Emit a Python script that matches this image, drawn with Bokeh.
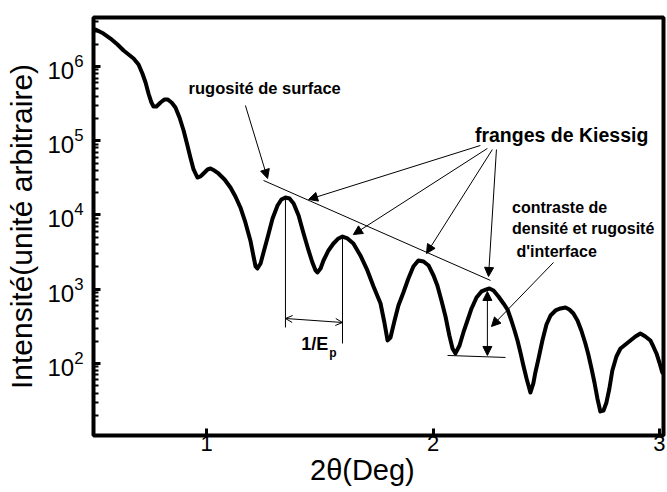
import numpy as np
from bokeh.plotting import figure
from bokeh.models import Arrow, NormalHead, OpenHead, Label, Range1d, FixedTicker
from bokeh.embed import file_html
from bokeh.resources import INLINE

# ---- data ----
two_theta = [0.509,0.544,0.575,0.606,0.633,0.655,0.677,0.699,0.716,0.730,0.743,0.756,0.765,0.778,0.796,0.814,0.827,0.845,0.862,0.880,
             0.898,0.915,0.928,0.942,0.959,0.973,0.986,1.004,1.017,1.034,1.052,1.079,1.105,1.127,1.149,1.171,1.193,1.207,1.216,1.224,
             1.238,1.251,1.269,1.291,1.313,1.330,1.348,1.366,1.384,1.406,1.428,1.450,1.467,1.481,1.489,1.503,1.516,1.538,1.560,1.582,
             1.600,1.622,1.648,1.679,1.710,1.737,1.768,1.785,1.799,1.812,1.830,1.847,1.869,1.891,1.913,1.935,1.958,1.980,2.002,2.019,
             2.037,2.055,2.072,2.086,2.099,2.117,2.134,2.152,2.170,2.192,2.214,2.236,2.249,2.267,2.289,2.311,2.329,2.346,2.360,2.373,
             2.386,2.399,2.413,2.430,2.443,2.452,2.466,2.483,2.501,2.519,2.541,2.563,2.585,2.602,2.620,2.638,2.655,2.673,2.686,2.700,
             2.713,2.726,2.739,2.753,2.766,2.779,2.792,2.810,2.828,2.850,2.872,2.894,2.916,2.938,2.960,2.973,2.987,3.000,3.013]
log_intensity = [6.498,6.444,6.377,6.296,6.215,6.162,6.108,6.027,5.906,5.785,5.636,5.515,5.461,5.461,5.515,5.556,5.556,5.515,5.448,5.313,
                 5.138,4.936,4.774,4.613,4.505,4.519,4.559,4.613,4.626,4.599,4.559,4.478,4.370,4.249,4.101,3.899,3.657,3.441,3.306,3.279,
                 3.347,3.495,3.697,3.953,4.128,4.209,4.236,4.222,4.155,3.993,3.751,3.522,3.360,3.253,3.226,3.279,3.387,3.522,3.616,3.684,
                 3.710,3.684,3.616,3.455,3.253,3.037,2.808,2.552,2.310,2.350,2.579,2.781,2.956,3.145,3.306,3.387,3.374,3.320,3.185,3.051,
                 2.848,2.633,2.377,2.202,2.135,2.242,2.418,2.579,2.741,2.889,2.970,2.997,3.010,2.983,2.902,2.808,2.727,2.579,2.444,2.310,
                 2.148,1.973,1.798,1.609,1.731,1.879,2.067,2.310,2.525,2.646,2.714,2.741,2.754,2.727,2.673,2.579,2.444,2.269,2.121,1.933,
                 1.744,1.529,1.354,1.367,1.475,1.663,1.906,2.094,2.202,2.256,2.310,2.364,2.404,2.364,2.310,2.229,2.135,2.013,1.875]
intensity = [10 ** v for v in log_intensity]

x_ticks = [1, 2, 3]
x_label = "2\u03b8(Deg)"
y_label = "Intensit\u00e9(unit\u00e9 arbitraire)"

# annotation anchors (data units: 2theta, log10 intensity)
kiessig_start_x = [2.209, 2.240, 2.262, 2.280]
kiessig_start_log = [4.936, 4.896, 4.882, 4.882]
kiessig_end_x = [1.450, 1.648, 1.971, 2.245]
kiessig_end_log = [4.209, 3.737, 3.481, 3.172]
surface_arrow = [1.171, 5.475, 1.269, 4.492]
contrast_arrow = [2.532, 3.360, 2.258, 2.498]
surface_line = [1.251, 4.465, 2.254, 3.118]
contrast_span = [2.240, 2.970, 2.108]
contrast_base = [2.064, 2.108, 2.320, 2.081]
ep_lines_x = [1.348, 1.600]
ep_lines_top = [4.236, 3.710]
ep_lines_bottom = [2.485, 2.269]
ep_arrow = [1.348, 2.606, 1.600, 2.552]

FONT = "Liberation Sans"

p = figure(width=667, height=492, y_axis_type="log",
           x_range=Range1d(0.5, 3.018), y_range=Range1d(10 ** 1.03, 10 ** 6.66),
           output_backend="svg", toolbar_location=None,
           min_border_left=93, min_border_right=4, min_border_top=17, min_border_bottom=57)
p.grid.visible = False
p.outline_line_color = "black"
p.outline_line_width = 4
p.background_fill_color = "white"
p.border_fill_color = "white"

for ax in (p.xaxis[0], p.yaxis[0]):
    ax.axis_line_color = None
    ax.major_tick_in = 7
    ax.major_tick_out = 0
    ax.major_tick_line_width = 3
    ax.major_label_text_font = FONT
    ax.major_label_text_color = "black"
    ax.axis_label_text_font = FONT
    ax.axis_label_text_font_style = "normal"
    ax.axis_label_text_color = "black"

p.xaxis.ticker = FixedTicker(ticks=x_ticks)
p.xaxis.minor_tick_line_color = None
p.xaxis.major_label_standoff = 0
p.xaxis.major_label_text_font_size = "22px"
p.xaxis.axis_label = x_label + "\u00a0\u00a0\u00a0\u00a0"
p.xaxis.axis_label_text_font_size = "29px"
p.xaxis.axis_label_standoff = 0

p.yaxis.minor_tick_in = 5
p.yaxis.minor_tick_out = 0
p.yaxis.minor_tick_line_width = 2
p.yaxis.major_label_standoff = 10
p.yaxis.major_label_text_font_size = "24px"
p.yaxis.axis_label = y_label
p.yaxis.axis_label_text_font_size = "30px"
p.yaxis.axis_label_standoff = 6

p.line(two_theta, intensity, line_color="black", line_width=4, line_join="round", line_cap="round")

# straight annotation lines
p.segment(x0=[surface_line[0], contrast_base[0]] + ep_lines_x,
          y0=[10 ** surface_line[1], 10 ** contrast_base[1]] + [10 ** v for v in ep_lines_top],
          x1=[surface_line[2], contrast_base[2]] + ep_lines_x,
          y1=[10 ** surface_line[3], 10 ** contrast_base[3]] + [10 ** v for v in ep_lines_bottom],
          line_color="black", line_width=1)

def head():
    return NormalHead(size=9, fill_color="black", line_color="black", line_width=1)

for xs, ys, xe, ye in zip(kiessig_start_x, kiessig_start_log, kiessig_end_x, kiessig_end_log):
    p.add_layout(Arrow(end=head(), x_start=xs, y_start=10 ** ys, x_end=xe, y_end=10 ** ye, line_width=1))
for a in (surface_arrow, contrast_arrow):
    p.add_layout(Arrow(end=head(), x_start=a[0], y_start=10 ** a[1], x_end=a[2], y_end=10 ** a[3], line_width=1))
p.add_layout(Arrow(start=head(), end=head(), x_start=contrast_span[0], y_start=10 ** contrast_span[1],
                   x_end=contrast_span[0], y_end=10 ** contrast_span[2], line_width=1))
p.add_layout(Arrow(start=OpenHead(size=7, line_width=1), end=OpenHead(size=7, line_width=1),
                   x_start=ep_arrow[0], y_start=10 ** ep_arrow[1], x_end=ep_arrow[2], y_end=10 ** ep_arrow[3], line_width=1))

def lab(x, logy, text, size, bold=True, align="left", baseline="middle"):
    p.add_layout(Label(x=x, y=10 ** logy, text=text, text_font=FONT, text_font_size=size,
                       text_font_style="bold" if bold else "normal", text_align=align,
                       text_baseline=baseline, text_color="black"))

lab(0.920, 5.704, "rugosit\u00e9 de surface", "16.5px")
lab(2.568, 5.084, "franges de Kiessig", "19.5px", align="center")
lab(2.349, 4.101, "contraste de", "16px")
lab(2.349, 3.818, "densit\u00e9 et rugosit\u00e9", "16px")
lab(2.349, 3.511, "\u00a0d'interface", "16px")
lab(1.537, 2.269, "1/E", "18px", align="right")
lab(1.541, 2.135, "p", "12px")

open("out.html", "w").write(file_html(p, INLINE))
